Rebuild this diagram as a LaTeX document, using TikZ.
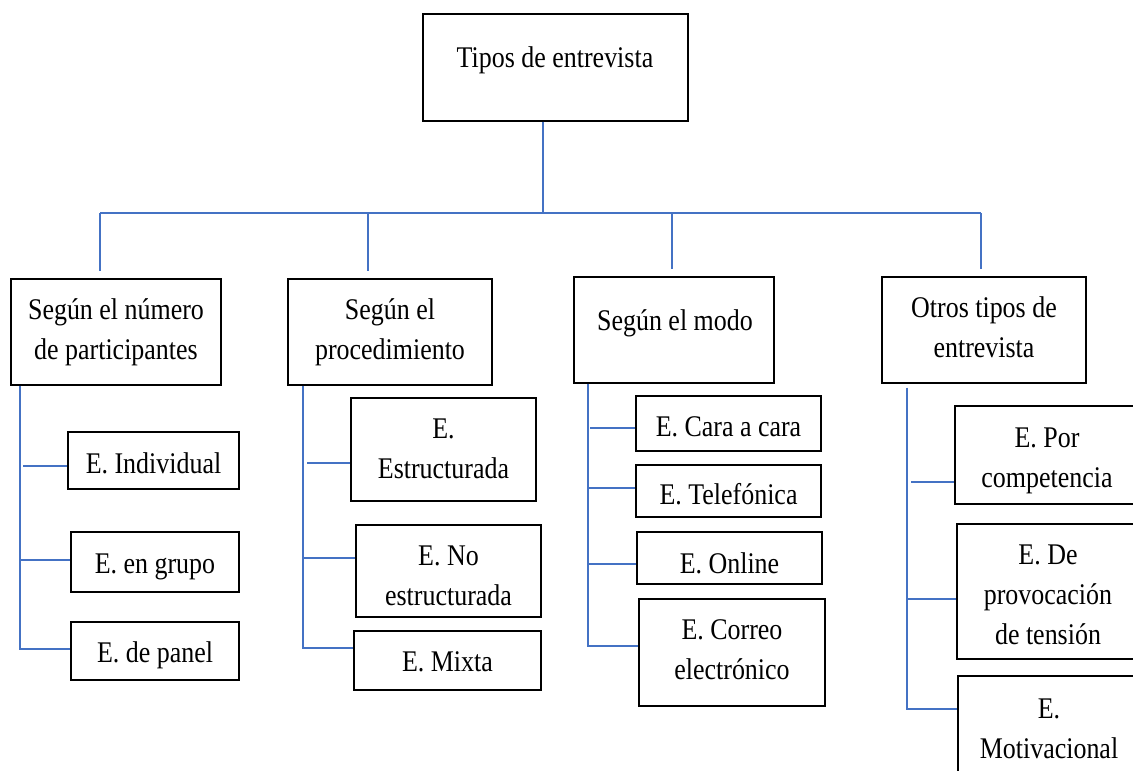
\documentclass[tikz,border=0pt]{standalone}
\usepackage{fontspec}
\setmainfont[FakeStretch=0.865]{Liberation Serif}
\usetikzlibrary{calc}
\definecolor{linkblue}{HTML}{4472C4}
\begin{document}
\begin{tikzpicture}[x=1pt,y=-1pt,
  box/.style={draw=black, line width=1.3pt, inner sep=0pt, rectangle},
  txt/.style={align=center, inner sep=0pt, font=\fontsize{30}{40}\selectfont},
  conn/.style={draw=linkblue, line width=1.4pt}]
\fill[white] (0,0) rectangle (1133,771);
\useasboundingbox (0,0) rectangle (1133,771);

% top
\node[box, minimum width=265pt, minimum height=107pt] (top) at (555.4,67.5) {};
\node[txt] (topt) at (555,59) {\strut Tipos de entrevista};

% level 1
\node[box, minimum width=210pt, minimum height=106pt] (b1) at (116,332) {};
\node[txt] (b1t) at (116,331) {\strut Según el número\\\strut de participantes};
\node[box, minimum width=204pt, minimum height=106pt] (b2) at (390,332) {};
\node[txt] (b2t) at (390,331) {\strut Según el\\\strut procedimiento};
\node[box, minimum width=200pt, minimum height=106pt] (b3) at (674,330) {};
\node[txt] (b3t) at (675,322) {\strut Según el modo};
\node[box, minimum width=204pt, minimum height=106pt] (b4) at (984,330) {};
\node[txt] (b4t) at (984,329) {\strut Otros tipos de\\\strut entrevista};

% children 1
\node[box, minimum width=171pt, minimum height=57pt] (c11) at (153.5,460.5) {};
\node[txt] (c11t) at (153.5,465) {\strut E. Individual};
\node[box, minimum width=168pt, minimum height=60pt] (c12) at (155,562) {};
\node[txt] (c12t) at (155,565) {\strut E. en grupo};
\node[box, minimum width=168pt, minimum height=58pt] (c13) at (155,651) {};
\node[txt] (c13t) at (155,654) {\strut E. de panel};

% children 2
\node[box, minimum width=185pt, minimum height=103pt] (c21) at (443.5,449.5) {};
\node[txt] (c21t) at (443.5,450) {\strut E.\\\strut Estructurada};
\node[box, minimum width=185pt, minimum height=92pt] (c22) at (448.5,571) {};
\node[txt] (c22t) at (448.5,577) {\strut E. No\\\strut estructurada};
\node[box, minimum width=187pt, minimum height=59pt] (c23) at (447.5,660.5) {};
\node[txt] (c23t) at (447.5,663) {\strut E. Mixta};

% children 3
\node[box, minimum width=185pt, minimum height=55pt] (c31) at (728.5,423.5) {};
\node[txt] (c31t) at (728.5,428) {\strut E. Cara a cara};
\node[box, minimum width=185pt, minimum height=52pt] (c32) at (728.5,491) {};
\node[txt] (c32t) at (728.5,496) {\strut E. Telefónica};
\node[box, minimum width=185pt, minimum height=52pt] (c33) at (729.5,558) {};
\node[txt] (c33t) at (729.5,565) {\strut E. Online};
\node[box, minimum width=186pt, minimum height=107pt] (c34) at (732,652.5) {};
\node[txt] (c34t) at (732,651) {\strut E. Correo\\\strut electrónico};

% children 4
\node[box, minimum width=184pt, minimum height=98pt] (c41) at (1047,455) {};
\node[txt] (c41t) at (1047,459) {\strut E. Por\\\strut competencia};
\node[box, minimum width=182pt, minimum height=135pt] (c42) at (1048,591.5) {};
\node[txt] (c42t) at (1048,596) {\strut E. De\\\strut provocación\\\strut de tensión};
\node[box, minimum width=182pt, minimum height=124pt] (c43) at (1049,738) {};
\node[txt] (c43t) at (1049,730) {\strut E.\\\strut Motivacional};

% connectors: top level
\coordinate (trunk) at (543,213);
\coordinate (d1) at (100,213);
\coordinate (d2) at (368,213);
\coordinate (d3) at (672,213);
\coordinate (d4) at (981,213);
\draw[conn] (trunk |- top.south) -- (trunk);
\draw[conn] (d1) -- (d4);
\draw[conn] (d1) -- ($(d1 |- b1.north)+(0,-7)$);
\draw[conn] (d2) -- ($(d2 |- b2.north)+(0,-7)$);
\draw[conn] (d3) -- ($(d3 |- b3.north)+(0,-7)$);
\draw[conn] (d4) -- ($(d4 |- b4.north)+(0,-7)$);

% spine 1
\coordinate (s1) at (20,649);
\coordinate (h11) at (23,466);
\coordinate (h12) at (20,560);
\draw[conn] (s1 |- b1.south) -- (s1) -- (s1 -| c13.west);
\draw[conn] (h11) -- (h11 -| c11.west);
\draw[conn] (h12) -- (h12 -| c12.west);

% spine 2
\coordinate (s2) at (303,648);
\coordinate (h21) at (307,463);
\coordinate (h22) at (303,558);
\draw[conn] (s2 |- b2.south) -- (s2) -- (s2 -| c23.west);
\draw[conn] (h21) -- (h21 -| c21.west);
\draw[conn] (h22) -- (h22 -| c22.west);

% spine 3
\coordinate (s3) at (588,646);
\coordinate (h31) at (590,428);
\coordinate (h32) at (588,488);
\coordinate (h33) at (588,564);
\draw[conn] (s3 |- b3.south) -- (s3) -- (s3 -| c34.west);
\draw[conn] (h31) -- (h31 -| c31.west);
\draw[conn] (h32) -- (h32 -| c32.west);
\draw[conn] (h33) -- (h33 -| c33.west);

% spine 4
\coordinate (s4) at (907,709);
\coordinate (h41) at (911,482);
\coordinate (h42) at (907,599);
\draw[conn] ($(s4 |- b4.south)+(0,4)$) -- (s4) -- (s4 -| c43.west);
\draw[conn] (h41) -- (h41 -| c41.west);
\draw[conn] (h42) -- (h42 -| c42.west);
\end{tikzpicture}
\end{document}
